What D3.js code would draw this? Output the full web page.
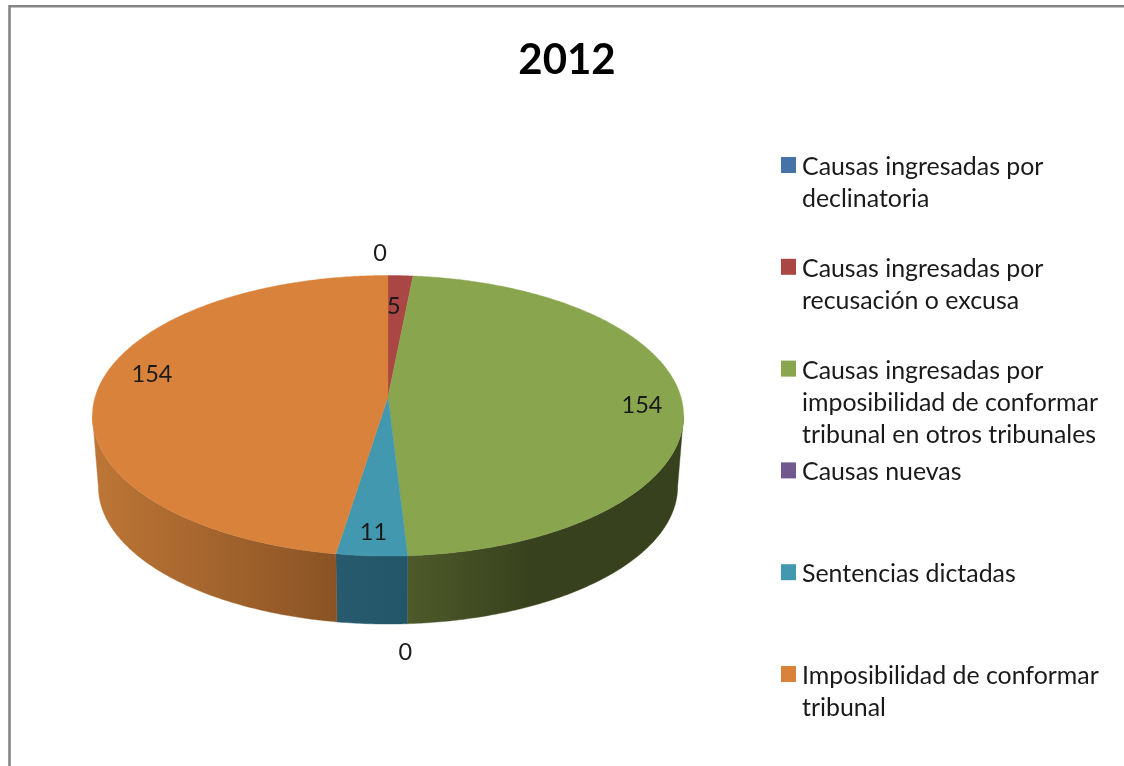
<!DOCTYPE html>
<html><head><meta charset="utf-8">
<script src="https://cdn.jsdelivr.net/npm/d3@7"></script>
<style>
html,body{margin:0;padding:0;background:#fff;overflow:hidden}
svg{display:block;filter:blur(0.45px)}
text{font-family:Lato,"Open Sans",sans-serif;fill:#1a1a1a}
</style></head><body>
<svg id="c" width="1124" height="766"></svg>
<script>
const title = "2012";
const categories = ["Causas ingresadas por declinatoria","Causas ingresadas por recusación o excusa","Causas ingresadas por imposibilidad de conformar tribunal en otros tribunales","Causas nuevas","Sentencias dictadas","Imposibilidad de conformar tribunal"];
const legendLines = [["Causas ingresadas por","declinatoria"],["Causas ingresadas por","recusación o excusa"],["Causas ingresadas por","imposibilidad de conformar","tribunal en otros tribunales"],["Causas nuevas"],["Sentencias dictadas"],["Imposibilidad de conformar","tribunal"]];
const values = [0,5,154,0,11,154];
const colors = ["#4572a7","#aa4643","#89a54e","#71588f","#4198af","#d9823b"];
const wallStops = [
  ["#2a4565","#2a4565"],["#672a28","#672a28"],["#4e5a2a","#38411d"],["#443555","#443555"],["#275a6c","#24566a"],["#bd7636","#8a5325"]
];
const labelOffsets = [[-8,-40],[-5,13],[4.5,5],[1,122],[-1,2.5],[10,-15]];

const svg = d3.select("#c");
// frame
svg.append("path").attr("d","M9.5,766V6.2H1124").attr("fill","none").attr("stroke","#858585").attr("stroke-width",2.6);

svg.append("text").attr("x",567).attr("y",73.5).attr("text-anchor","middle")
  .attr("font-size",42).attr("font-weight",700).style("fill","#000").text(title);

// projection of the tilted disc
const cx=388, R=292.9, c=0.1337, A=-84.7, B=397;
const Y0=416, wallScale=0.98, depth=70.8;
const top3d=(a,r=1)=>{const u=r*Math.sin(a),v=r*Math.cos(a),w=1+c*v;return [cx+R*u/w,(A*v+B)/w];};
const bot3d=a=>{const [x,y]=top3d(a);return [cx+(x-cx)*wallScale,Y0+(y-Y0)*wallScale+depth];};
const line=d3.line();
const sample=(a0,a1)=>{const n=Math.max(2,Math.ceil(Math.abs(a1-a0)/0.01));return d3.range(n+1).map(i=>a0+(a1-a0)*i/n);};

const arcs=d3.pie().sort(null).value(d=>d)(values);
const tangent=Math.acos(-c), wallA0=tangent, wallA1=2*Math.PI-tangent;

const defs=svg.append("defs");
const wg=svg.append("g"), tg=svg.append("g"), lg=svg.append("g");

arcs.forEach((d,i)=>{
  const a0=Math.max(d.startAngle,wallA0), a1=Math.min(d.endAngle,wallA1);
  if(d.value>0 && a1>a0){
    const as=sample(a0,a1);
    const topPts=as.map(a=>top3d(a)), botPts=as.map(a=>bot3d(a)).reverse();
    const pts=topPts.concat(botPts);
    const xs=d3.extent(pts,p=>p[0]);
    const id="w"+i;
    const gr=defs.append("linearGradient").attr("id",id).attr("gradientUnits","userSpaceOnUse")
      .attr("x1",xs[0]).attr("x2",xs[1]).attr("y1",0).attr("y2",0);
    gr.append("stop").attr("offset",0).attr("stop-color",wallStops[i][0]);
    gr.append("stop").attr("offset",i===2?0.45:1).attr("stop-color",wallStops[i][1]);
    wg.append("path").attr("d",line(pts)+"Z").attr("fill",`url(#${id})`).attr("stroke",`url(#${id})`).attr("stroke-width",0.4);
  }
});
arcs.forEach((d,i)=>{
  if(d.value>0){
    const pts=[[cx,B]].concat(sample(d.startAngle,d.endAngle).map(a=>top3d(a)));
    tg.append("path").attr("d",line(pts)+"Z").attr("fill",colors[i]).attr("stroke",colors[i]).attr("stroke-width",0.4);
  }
});
arcs.forEach((d,i)=>{
  const [x,y]=top3d((d.startAngle+d.endAngle)/2,0.85);
  lg.append("text").attr("x",x+labelOffsets[i][0]).attr("y",y+labelOffsets[i][1])
    .attr("text-anchor","middle").attr("dominant-baseline","central").attr("font-size",23.5).text(d.value);
});

// legend
const ly=d3.scalePoint().domain(categories).range([165,674]);
const lgd=svg.append("g");
categories.forEach((k,i)=>{
  const y=ly(k);
  lgd.append("rect").attr("x",781).attr("y",y-8).attr("width",15).attr("height",16).attr("fill",colors[i]);
  legendLines[i].forEach((s,j)=>{
    lgd.append("text").attr("x",802).attr("y",y+j*32).attr("dominant-baseline","central")
      .attr("font-size",24.9).text(s);
  });
});
</script></body></html>
